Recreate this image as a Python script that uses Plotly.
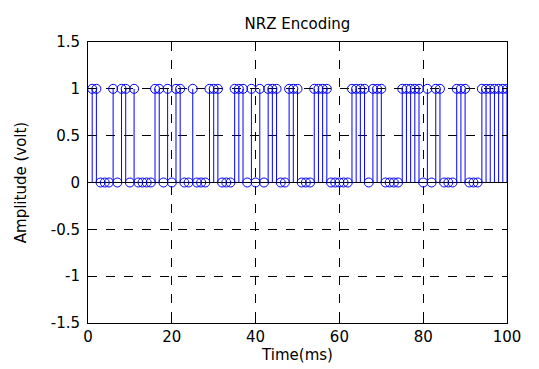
import plotly.graph_objects as go

time_ms = list(range(1, 101))
bits = [1,1,0,0,0,1,0,1,1,0,
        1,0,0,0,0,1,1,0,1,0,
        1,1,0,0,1,0,0,0,1,1,
        1,0,0,0,1,1,1,0,1,0,
        1,0,1,1,1,0,0,1,1,1,
        0,0,0,1,1,1,1,0,0,0,
        0,0,1,1,1,1,0,1,1,1,
        0,0,0,0,1,1,1,1,1,0,
        1,0,1,1,0,0,0,1,1,1,
        0,0,0,1,1,1,1,1,1,1]
x_ticks = [0, 20, 40, 60, 80, 100]
y_ticks = [-1.5, -1, -0.5, 0, 0.5, 1, 1.5]

stem_x, stem_y = [], []
for t, b in zip(time_ms, bits):
    stem_x += [t, t, None]
    stem_y += [0, b, None]

blue = "rgb(0,0,255)"
fig = go.Figure()
fig.add_trace(go.Scatter(x=stem_x, y=stem_y, mode="lines",
                         line=dict(color=blue, width=1), hoverinfo="skip", showlegend=False))
fig.add_trace(go.Scatter(x=[0, 100], y=[0, 0], mode="lines",
                         line=dict(color="black", width=1), showlegend=False))
fig.add_trace(go.Scatter(x=time_ms, y=bits, mode="markers",
                         marker=dict(symbol="circle-open", size=9, color=blue, line=dict(width=1, color=blue)),
                         showlegend=False))

font = "DejaVu Sans, Arial, sans-serif"
fig.update_layout(
    width=531, height=361,
    margin=dict(l=80, r=32, t=34, b=38),
    paper_bgcolor="white", plot_bgcolor="white",
    font=dict(family=font, size=15, color="black"),
    title=dict(text="NRZ Encoding", x=0.5, xanchor="center", xref="paper",
               y=1, yref="paper", yanchor="bottom", pad=dict(b=13), font=dict(size=15)),
    xaxis=dict(range=[0, 100], tickvals=x_ticks, ticktext=[str(v) for v in x_ticks],
               showgrid=True, gridcolor="black", griddash="dash", gridwidth=1,
               showline=True, linecolor="black", linewidth=1, mirror="ticks",
               ticks="inside", ticklen=5, tickcolor="black", zeroline=False,
               title=dict(text="Time(ms)", standoff=0, font=dict(size=15))),
    yaxis=dict(range=[-1.5, 1.5], tickvals=y_ticks, ticktext=["-1.5", "-1", "-0.5", "0", "0.5", "1", "1.5"],
               showgrid=True, gridcolor="black", griddash="dash", gridwidth=1,
               showline=True, linecolor="black", linewidth=1, mirror="ticks",
               ticks="inside", ticklen=5, tickcolor="black", zeroline=False,
               ticklabelstandoff=4,
               title=dict(text="Amplitude (volt)", standoff=20, font=dict(size=15))),
)
fig.write_html("out.html")
